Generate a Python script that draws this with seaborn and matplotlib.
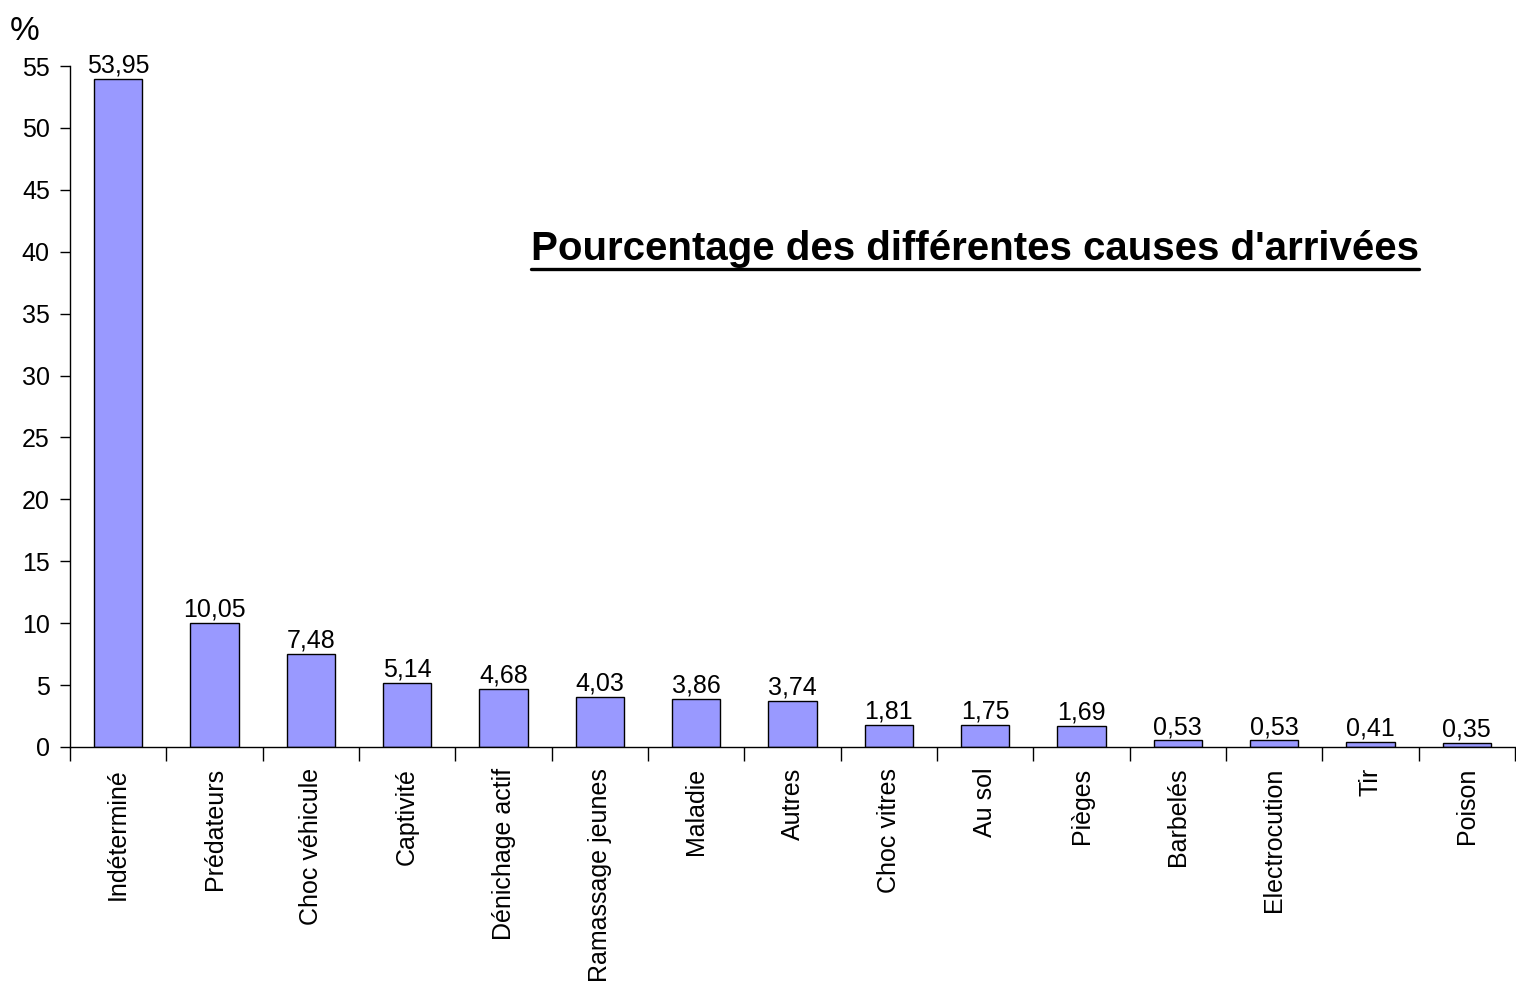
import matplotlib
matplotlib.use("Agg")
import matplotlib.pyplot as plt
import seaborn as sns
import pandas as pd
from matplotlib.lines import Line2D

categories = ["Indéterminé", "Prédateurs", "Choc véhicule", "Captivité", "Dénichage actif",
              "Ramassage jeunes", "Maladie", "Autres", "Choc vitres", "Au sol", "Pièges",
              "Barbelés", "Electrocution", "Tir", "Poison"]
values = [53.95, 10.05, 7.48, 5.14, 4.68, 4.03, 3.86, 3.74, 1.81, 1.75, 1.69, 0.53, 0.53, 0.41, 0.35]
yticks = [0, 5, 10, 15, 20, 25, 30, 35, 40, 45, 50, 55]
title = "Pourcentage des différentes causes d'arrivées"

sns.set_style("ticks")
plt.rcParams['font.family'] = ['Liberation Sans', 'DejaVu Sans']
plt.rcParams['text.color'] = 'black'
plt.rcParams['xtick.color'] = 'black'
plt.rcParams['ytick.color'] = 'black'
plt.rcParams['axes.labelcolor'] = 'black'

df = pd.DataFrame({"cause": categories, "pct": values})

fig = plt.figure(figsize=(15.16, 9.85), dpi=100)
ax = fig.add_axes([70/1516, (985-747)/985, (1515-70)/1516, (747-66)/985])

sns.barplot(data=df, x="cause", y="pct", color="#9999FF", edgecolor="black",
            linewidth=1.0, width=0.5, saturation=1, ax=ax)

ax.set_xlim(-0.5, len(categories) - 0.5)
ax.set_ylim(0, 55)
ax.set_yticks(yticks)
ax.set_yticklabels([str(t) for t in yticks], fontsize=18)
ax.tick_params(axis='y', direction='out', length=7.5, width=1, color='black', pad=7)

ax.set_xticks(range(len(categories)))
ax.set_xticklabels(categories, rotation=90, fontsize=18)
ax.tick_params(axis='x', which='major', length=0, pad=15)
ax.set_xticks([i - 0.5 for i in range(len(categories) + 1)], minor=True)
ax.tick_params(axis='x', which='minor', direction='out', length=10, width=1, color='black')

ax.set_xlabel("")
ax.set_ylabel("")
for side in ["top", "right"]:
    ax.spines[side].set_visible(False)
for side in ["left", "bottom"]:
    ax.spines[side].set_color("black")
    ax.spines[side].set_linewidth(1)

labels = [f"{v:.2f}".replace(".", ",") for v in values]
ax.bar_label(ax.containers[0], labels=labels, fontsize=18, padding=1, color="black")

fig.text(10/1516, 1 - 40/985, "%", fontsize=24, ha="left", va="baseline")

t = fig.text(975/1516, 1 - 260/985, title, fontsize=29, fontweight="bold",
             ha="center", va="baseline")
fig.canvas.draw()
bb = t.get_window_extent()
inv = fig.transFigure.inverted()
(x0, y0), (x1, y1) = inv.transform([[bb.x0, bb.y0], [bb.x1, bb.y0]])
uy = 1 - 269/985
fig.add_artist(Line2D([x0, x1], [uy, uy], transform=fig.transFigure, color="black", linewidth=2.4))

fig.savefig("out.png", dpi=100)
